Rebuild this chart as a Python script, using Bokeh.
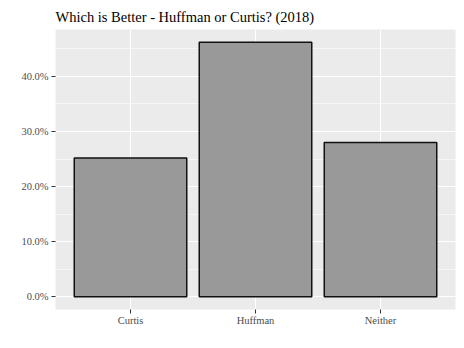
from bokeh.plotting import figure
from bokeh.models import Range1d, FixedTicker, SingleIntervalTicker, NumeralTickFormatter
from bokeh.embed import file_html
from bokeh.resources import INLINE

# data
categories = ["Curtis", "Huffman", "Neither"]
shares = [0.252, 0.462, 0.280]
title_text = "Which is Better - Huffman or Curtis? (2018)"

xs = list(range(1, len(categories) + 1))
ymax = max(shares)
span = ymax
p = figure(width=464, height=348, output_backend="svg", toolbar_location=None,
           x_range=Range1d(0.4, len(categories) + 0.6),
           y_range=Range1d(-0.05 * span, ymax + 0.05 * span),
           min_border_left=55, min_border_right=9, min_border_top=29, min_border_bottom=39)

p.background_fill_color = "#EBEBEB"
p.border_fill_color = "white"
p.outline_line_color = None

p.vbar(x=xs, top=shares, bottom=0, width=0.9, fill_color="#999999",
       line_color="#111111", line_width=1.5)

# title
p.title.text = title_text
p.title.text_font = "Liberation Serif"
p.title.text_font_size = "14.5px"
p.title.text_font_style = "normal"
p.title.text_color = "black"
p.title.align = "left"
p.title.standoff = 10

# x axis
p.xaxis.ticker = FixedTicker(ticks=xs)
p.xaxis.major_label_overrides = {x: c for x, c in zip(xs, categories)}
# y axis
p.yaxis.ticker = SingleIntervalTicker(interval=0.1, num_minor_ticks=2)
p.yaxis.formatter = NumeralTickFormatter(format="0.0%")

for ax in (p.xaxis, p.yaxis):
    ax.axis_line_color = None
    ax.major_tick_line_color = "#333333"
    ax.major_tick_line_width = 1
    ax.major_tick_in = 0
    ax.major_tick_out = 4
    ax.minor_tick_out = 0
    ax.minor_tick_in = 0
    ax.major_label_text_font = "Liberation Serif"
    ax.major_label_text_font_size = "10.5px"
    ax.major_label_text_color = "#4D4D4D"
p.xaxis.major_label_standoff = 1
p.yaxis.major_label_standoff = 3

p.xgrid.ticker = FixedTicker(ticks=xs)
p.xgrid.grid_line_color = "white"
p.xgrid.grid_line_width = 1.1
p.ygrid.grid_line_color = "white"
p.ygrid.grid_line_width = 1.1
p.ygrid.minor_grid_line_color = "white"
p.ygrid.minor_grid_line_width = 0.55

open("out.html", "w").write(file_html(p, INLINE))
